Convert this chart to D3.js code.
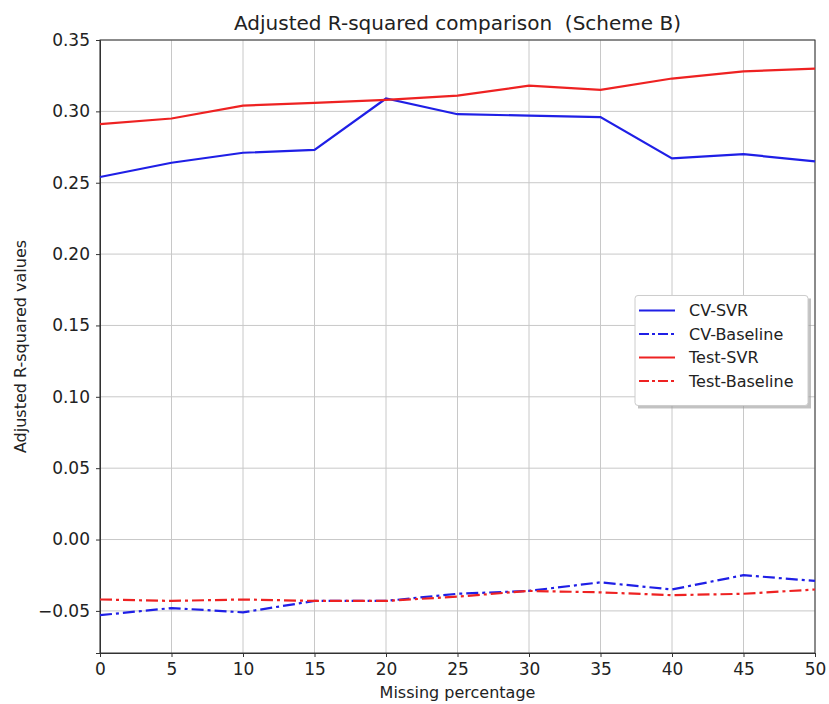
<!DOCTYPE html>
<html>
<head>
<meta charset="utf-8">
<style>
    body { margin: 0; background: #fff; }
    text { font-family: "DejaVu Sans", sans-serif; fill: #222; }
    .grid line { stroke: #c8c8c8; stroke-width: 1; }
    .axis path, .axis line { stroke: #333; }
</style>
<script src="https://cdn.jsdelivr.net/npm/d3@7/dist/d3.min.js"></script>
</head>
<body>
<script>
    // data
    var missing = [0, 5, 10, 15, 20, 25, 30, 35, 40, 45, 50];
    var cvSvr = [0.254, 0.264, 0.271, 0.273, 0.309, 0.298, 0.297, 0.296, 0.267, 0.270, 0.265];
    var cvBaseline = [-0.053, -0.048, -0.051, -0.043, -0.043, -0.038, -0.036, -0.030, -0.035, -0.025, -0.029];
    var testSvr = [0.291, 0.295, 0.304, 0.306, 0.308, 0.311, 0.318, 0.315, 0.323, 0.328, 0.330];
    var testBaseline = [-0.042, -0.043, -0.042, -0.043, -0.043, -0.040, -0.036, -0.037, -0.039, -0.038, -0.035];
    var yTicks = [-0.05, 0.00, 0.05, 0.10, 0.15, 0.20, 0.25, 0.30, 0.35];

    var series = [
        {name: "CV-SVR", values: cvSvr, color: "#1f1fe6", dash: null},
        {name: "CV-Baseline", values: cvBaseline, color: "#1f1fe6", dash: "12,4,3,4"},
        {name: "Test-SVR", values: testSvr, color: "#ee2222", dash: null},
        {name: "Test-Baseline", values: testBaseline, color: "#ee2222", dash: "12,4,3,4"}
    ];

    var margin = {top: 40, right: 14, bottom: 51, left: 100},
        width = 829 - margin.left - margin.right,
        height = 704 - margin.top - margin.bottom;

    var svg = d3.select("body").append("svg")
        .attr("width", 829)
        .attr("height", 704);

    var g = svg.append("g")
        .attr("transform", "translate(" + margin.left + "," + margin.top + ")");

    var x = d3.scaleLinear().domain([0, 50]).range([0, width]);
    var y = d3.scaleLinear().domain([-0.0795, 0.35]).range([height, 0]);

    // grid
    g.append("g").attr("class", "grid")
        .selectAll("line.v").data(missing).enter().append("line")
        .attr("x1", function (d) { return x(d); })
        .attr("x2", function (d) { return x(d); })
        .attr("y1", 0).attr("y2", height);
    g.append("g").attr("class", "grid")
        .selectAll("line.h").data(yTicks).enter().append("line")
        .attr("y1", function (d) { return y(d); })
        .attr("y2", function (d) { return y(d); })
        .attr("x1", 0).attr("x2", width);

    // axes
    g.append("g").attr("class", "axis")
        .attr("transform", "translate(0," + height + ")")
        .call(d3.axisBottom(x).tickValues(missing).tickSize(4).tickPadding(6));
    g.append("g").attr("class", "axis")
        .call(d3.axisLeft(y).tickValues(yTicks).tickSize(4).tickPadding(6)
            .tickFormat(function (d) { return d3.format(".2f")(d).replace("-", "\u2212"); }));
    g.selectAll(".axis text").style("font-size", "17px").style("font-family", "DejaVu Sans").attr("fill", "#333");

    // frame
    g.append("rect")
        .attr("width", width).attr("height", height)
        .attr("fill", "none").attr("stroke", "#333").attr("stroke-width", 1);

    // lines
    var line = d3.line()
        .x(function (d, i) { return x(missing[i]); })
        .y(function (d) { return y(d); });

    g.selectAll(".series").data(series).enter().append("path")
        .attr("d", function (d) { return line(d.values); })
        .attr("fill", "none")
        .attr("stroke", function (d) { return d.color; })
        .attr("stroke-width", 2.2)
        .attr("stroke-dasharray", function (d) { return d.dash; });

    // titles
    svg.append("text")
        .attr("x", margin.left + width / 2).attr("y", 30)
        .attr("text-anchor", "middle")
        .attr("xml:space", "preserve")
        .style("white-space", "pre")
        .style("font-size", "20px")
        .text("Adjusted R-squared comparison  (Scheme B)");

    svg.append("text")
        .attr("x", margin.left + width / 2).attr("y", 698)
        .attr("text-anchor", "middle")
        .style("font-size", "16px")
        .text("Missing percentage");

    svg.append("text")
        .attr("transform", "translate(26," + (margin.top + height / 2) + ") rotate(-90)")
        .attr("text-anchor", "middle")
        .style("font-size", "16px")
        .text("Adjusted R-squared values");

    // legend
    var legend = g.append("g")
        .attr("transform", "translate(" + (x(50) - 180) + "," + (y(0.171)) + ")");
    legend.append("rect")
        .attr("x", 3).attr("y", 3)
        .attr("width", 173).attr("height", 110)
        .attr("fill", "#999").attr("opacity", 0.6);
    legend.append("rect")
        .attr("width", 173).attr("height", 110)
        .attr("fill", "#fff").attr("stroke", "#ccc").attr("rx", 3);

    var item = legend.selectAll(".item").data(series).enter().append("g")
        .attr("transform", function (d, i) { return "translate(4," + (15 + i * 23.5) + ")"; });
    item.append("line")
        .attr("x1", 0).attr("x2", 36)
        .attr("stroke", function (d) { return d.color; })
        .attr("stroke-width", 2.2)
        .attr("stroke-dasharray", function (d) { return d.dash ? "10,3,3,3" : null; });
    item.append("text")
        .attr("x", 50).attr("dy", "0.35em")
        .style("font-size", "16px")
        .text(function (d) { return d.name; });
</script>
</body>
</html>
